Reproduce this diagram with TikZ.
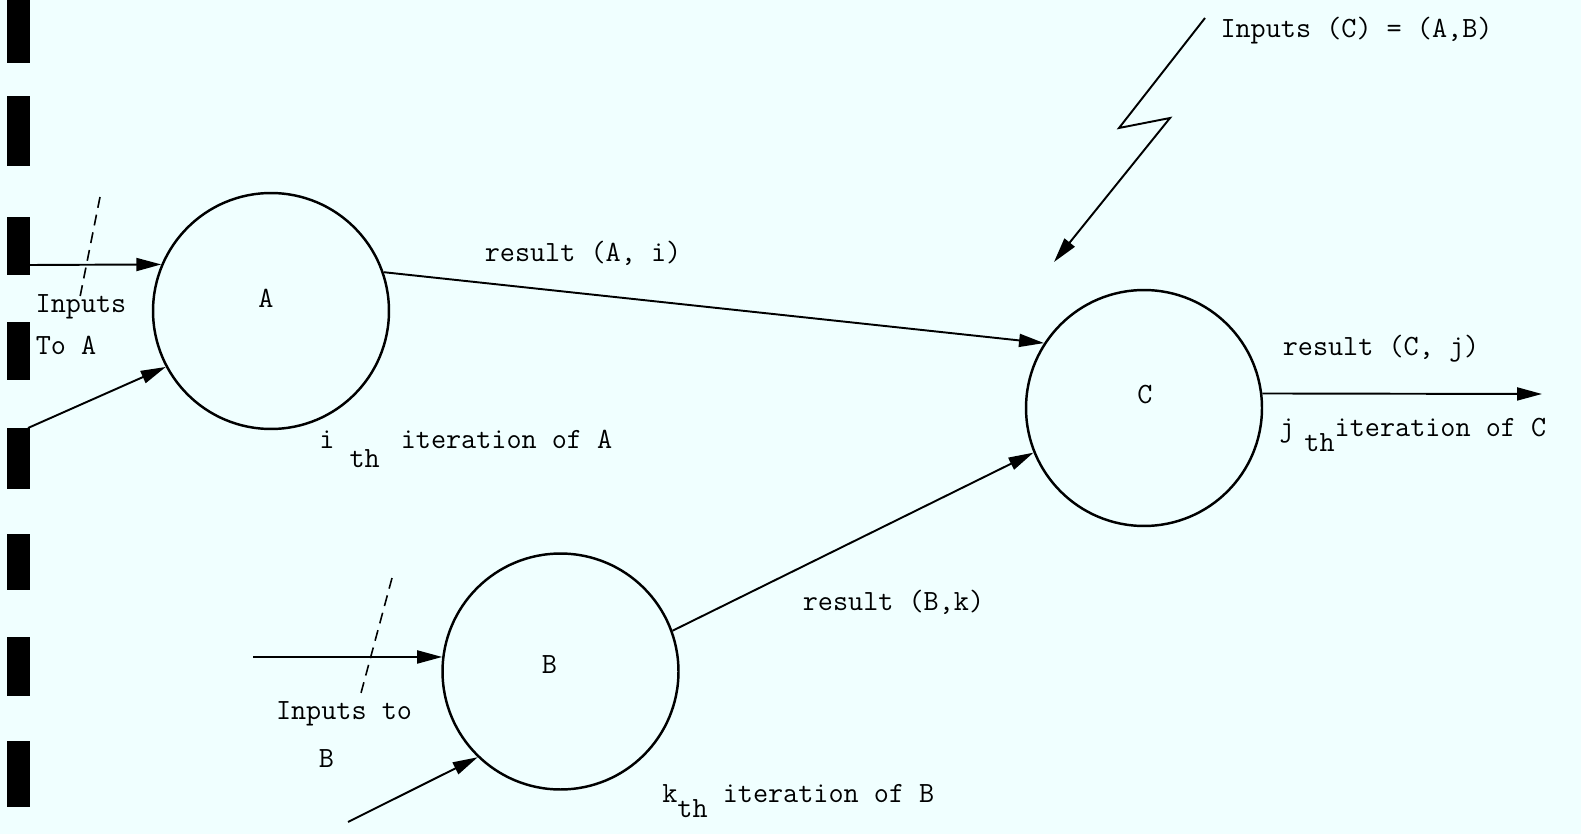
\documentclass[tikz,border=0pt]{standalone}
\usepackage{fontspec}
\usetikzlibrary{arrows.meta}
\definecolor{paper}{HTML}{F0FFFF}

\begin{document}
\begin{tikzpicture}[x=0.02cm, y=-0.02cm,
    proc/.style={circle, draw, line width=1.4pt, minimum size=4.72cm, inner sep=0pt},
    flow/.style={line width=1.1pt, -{Triangle[length=0.5cm, width=0.26cm]}},
    cut/.style={line width=0.9pt, dash pattern=on 0.22cm off 0.14cm},
    txt/.style={inner sep=0pt, anchor=base, font=\fontsize{16.7}{20}\selectfont\ttfamily},
    iter/.style={txt, anchor=base west}]
    % Paper and film marks
    \path[use as bounding box, fill=paper] (0,0) rectangle (1581,834);
    \foreach \ya/\yb in {0/63, 96/166, 217/275, 322/380, 428/489, 534/590, 637/696, 741/807}
      \fill[black] (7,\ya) rectangle (30,\yb);

    % Vertices
    \node[proc] (A) at (271,311) {};
    \node[proc] (B) at (560.5,671.5) {};
    \node[proc] (C) at (1144,408) {};
    \node[txt] (Aname) at (266,308) {A};
    \node[txt] (Bname) at (549.5,673) {B};
    \node[txt] (Cname) at (1145,403) {C};

    % Free ends
    \coordinate (inA1) at (30,265);
    \coordinate (inA2) at (28,428);
    \coordinate (inB1) at (253,657);
    \coordinate (inB2) at (348,822);
    \coordinate (Cout) at (1542,394);
    \coordinate (cutA1) at (100,197);
    \coordinate (cutA2) at (80,297);
    \coordinate (cutB1) at (392,578);
    \coordinate (cutB2) at (361,693);
    \coordinate (zz0) at (1205,18);
    \coordinate (zz1) at (1119,128);
    \coordinate (zz2) at (1170,118);
    \coordinate (zz3) at (1054,262);

    % Edges
    \draw[flow] (inA1) -- (A.157);
    \draw[flow] (inA2) -- (A.208);
    \draw[flow] (inB1) -- (B.173);
    \draw[flow] (inB2) -- (B.226);
    \draw[flow] (A.19) -- (C.147);
    \draw[flow] (B.20) -- (C.202);
    \draw[flow] (C.7) -- (Cout);
    \draw[flow] (zz0) -- (zz1) -- (zz2) -- (zz3);
    \draw[cut] (cutA1) -- (cutA2);
    \draw[cut] (cutB1) -- (cutB2);

    % Labels
    \node[txt] (inAtxt) at (81,313) {Inputs};
    \node[txt] (inAtxt2) at (66,355) {To A};
    \node[txt] (inBtxt) at (344,719) {Inputs to};
    \node[txt] (inBtxt2) at (326.5,767) {B};
    \node[txt] (inCtxt) at (1356.5,38) {Inputs (C) = (A,B)};
    \node[txt] (resA) at (583,262) {result (A, i)};
    \node[txt] (resB) at (893.5,610) {result (B,k)};
    \node[txt] (resC) at (1381,356) {result (C, j)};
    \node[iter] (itA) at (319,448) {i~\raisebox{-0.4cm}{th}\hspace{0.42cm}iteration of A};
    \node[iter] (itB) at (662,802) {k\raisebox{-0.3cm}{th} iteration of B};
    \node[iter] (itC) at (1279,436) {j\hspace{0.2cm}\raisebox{-0.32cm}{th}iteration of C};
\end{tikzpicture}
\end{document}
